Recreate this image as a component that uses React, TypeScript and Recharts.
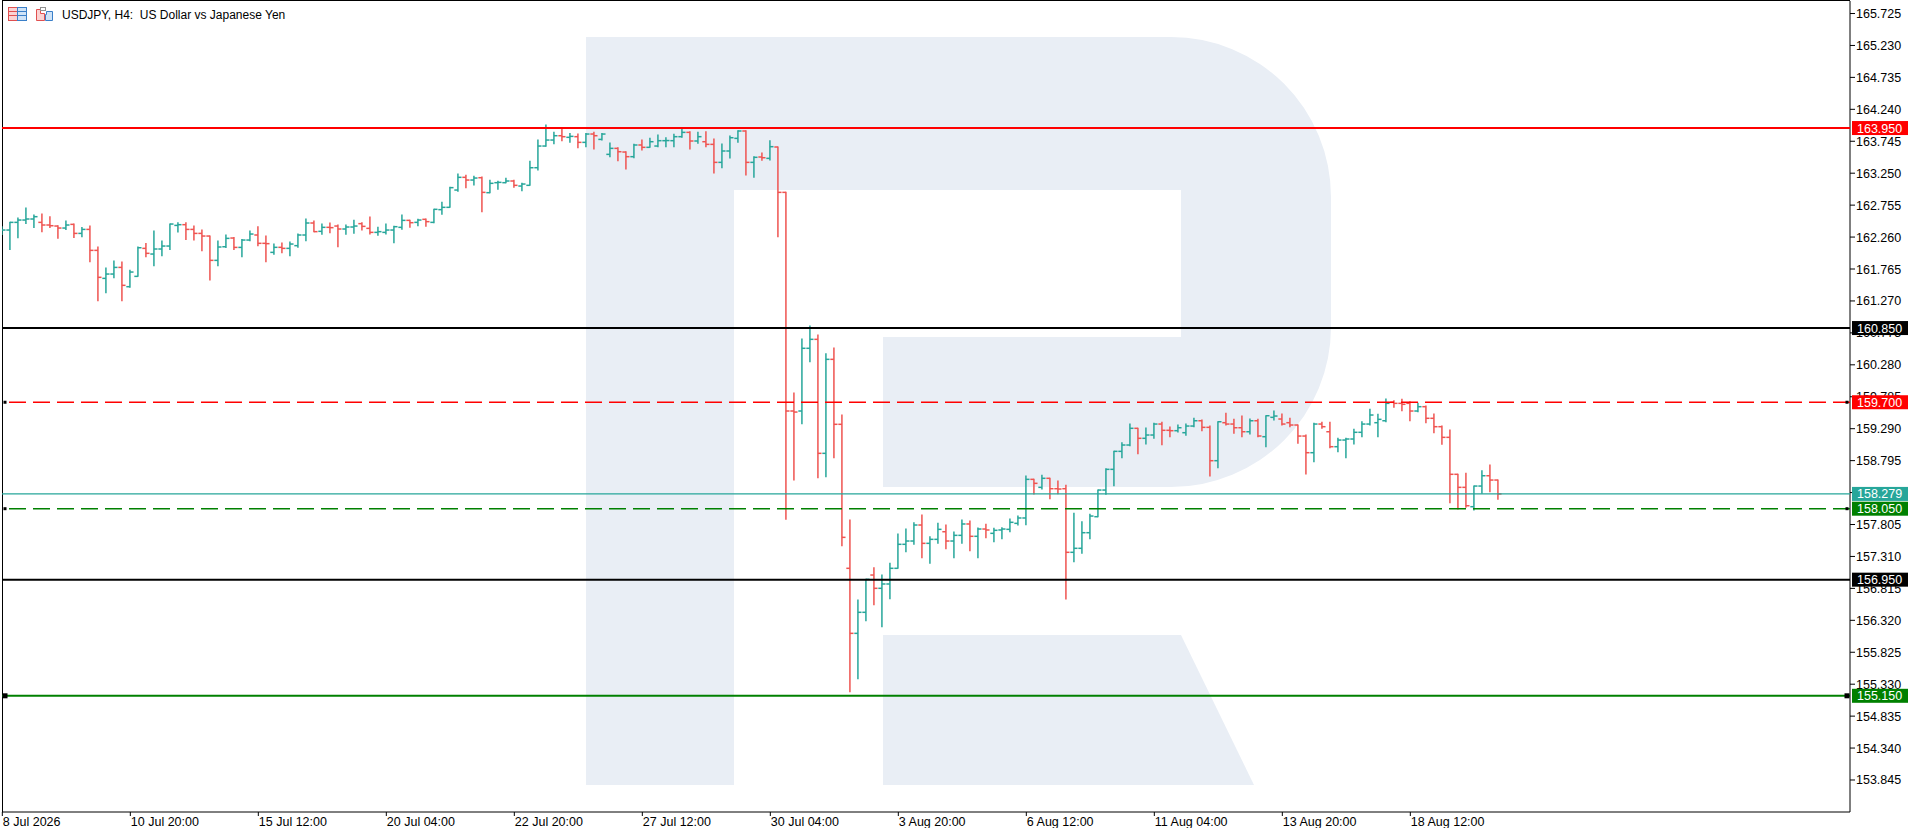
import React from 'react';
import { ComposedChart, Bar, XAxis, YAxis, ReferenceLine } from 'recharts';

const opens = [162.350,162.369,162.488,162.524,162.540,162.488,162.447,162.431,162.400,162.457,162.317,162.379,162.054,161.620,161.687,161.790,161.491,161.651,162.085,161.997,162.075,162.121,162.441,162.452,162.379,162.317,162.276,161.899,162.110,162.245,162.100,162.214,162.292,162.163,162.023,162.101,162.085,162.127,162.292,162.478,162.349,162.411,162.431,162.385,162.416,162.468,162.395,162.333,162.333,162.369,162.411,162.519,162.488,162.535,162.488,162.685,162.721,162.989,163.186,163.144,163.180,162.948,163.103,163.103,163.129,163.051,163.062,163.335,163.671,163.764,163.831,163.806,163.816,163.728,163.857,163.774,163.542,163.635,163.578,163.506,163.687,163.651,163.671,163.754,163.754,163.816,163.883,163.749,163.738,163.697,163.418,163.594,163.790,163.904,163.418,163.501,163.480,163.656,162.953,159.564,159.564,160.536,160.675,158.908,160.365,159.358,157.126,156.118,156.444,157.022,156.816,156.883,157.126,157.498,157.549,157.797,157.513,157.575,157.693,157.549,157.637,157.813,157.622,157.735,157.668,157.720,157.730,157.823,157.906,158.505,158.381,158.521,158.360,158.360,157.374,157.436,157.678,157.926,158.339,158.660,158.939,159.037,159.296,159.141,159.192,159.362,159.265,159.259,159.228,159.331,159.413,159.311,158.794,159.383,159.362,159.305,159.243,159.413,159.166,159.466,159.440,159.383,159.347,159.176,158.918,159.362,159.243,159.011,159.114,159.130,159.234,159.362,159.383,159.413,159.699,159.683,159.683,159.564,159.631,159.451,159.321,159.156,158.583,158.381,158.081,158.401,158.561,158.494];
const highs = [162.420,162.488,162.555,162.710,162.602,162.617,162.576,162.436,162.509,162.462,162.410,162.431,162.106,161.780,161.889,161.873,161.744,162.106,162.162,162.354,162.199,162.462,162.483,162.483,162.431,162.369,162.276,162.199,162.292,162.255,162.224,162.354,162.421,162.277,162.152,162.168,162.184,162.307,162.540,162.509,162.462,162.478,162.447,162.447,162.519,162.483,162.571,162.411,162.462,162.426,162.602,162.519,162.535,162.540,162.690,162.798,163.031,163.237,163.217,163.201,163.191,163.139,163.124,163.170,163.139,163.093,163.434,163.764,163.997,163.883,163.935,163.867,163.857,163.867,163.883,163.867,163.718,163.645,163.583,163.697,163.764,163.790,163.842,163.800,163.852,163.955,163.893,163.883,163.893,163.780,163.702,163.826,163.909,163.909,163.506,163.563,163.754,163.656,162.953,159.843,160.680,160.881,160.742,160.452,160.540,159.502,157.875,156.635,156.955,157.135,157.022,157.203,157.658,157.735,157.833,157.952,157.616,157.823,157.797,157.689,157.875,157.859,157.750,157.808,157.746,157.755,157.890,157.936,158.556,158.505,158.567,158.521,158.479,158.412,157.978,157.848,157.963,158.339,158.670,158.939,159.073,159.362,159.296,159.300,159.373,159.389,159.316,159.347,159.362,159.451,159.424,159.331,159.398,159.528,159.435,159.486,159.440,159.435,159.491,159.564,159.517,159.451,159.347,159.192,159.373,159.389,159.389,159.141,159.141,159.280,159.398,159.590,159.513,159.750,159.724,159.745,159.708,159.683,159.641,159.517,159.331,159.270,158.583,158.598,158.401,158.639,158.727,158.494];
const lows = [162.300,162.069,162.250,162.472,162.410,162.343,162.410,162.240,162.379,162.255,162.266,161.878,161.274,161.398,161.630,161.274,161.481,161.651,161.956,161.816,161.971,162.069,162.338,162.224,162.214,162.049,161.594,161.816,162.100,162.069,161.956,162.204,162.126,161.879,161.992,162.018,161.972,162.101,162.204,162.344,162.302,162.328,162.111,162.302,162.318,162.369,162.307,162.287,162.307,162.173,162.380,162.411,162.437,162.426,162.483,162.612,162.721,162.969,163.026,163.067,162.653,162.948,163.000,163.103,163.031,162.979,163.062,163.299,163.666,163.707,163.754,163.728,163.645,163.661,163.625,163.764,163.506,163.444,163.315,163.490,163.609,163.651,163.661,163.661,163.661,163.806,163.625,163.713,163.661,163.253,163.335,163.485,163.728,163.222,163.186,163.449,163.454,162.266,157.885,158.494,159.367,160.328,158.530,158.546,158.840,157.476,155.213,155.415,156.314,156.562,156.221,156.655,157.126,157.383,157.498,157.290,157.203,157.513,157.430,157.290,157.513,157.399,157.290,157.600,157.538,157.585,157.693,157.797,157.802,158.278,158.355,158.205,158.282,156.650,157.228,157.358,157.585,157.926,158.273,158.406,158.840,159.026,158.902,159.052,159.141,159.042,159.166,159.238,159.187,159.321,159.259,158.556,158.685,159.347,159.218,159.166,159.207,159.166,159.011,159.424,159.347,159.321,159.063,158.587,158.778,159.296,158.995,158.933,158.840,159.052,159.166,159.347,159.166,159.398,159.621,159.568,159.413,159.553,159.383,159.228,159.048,158.143,158.045,158.071,158.030,158.288,158.313,158.195];
const closes = [162.369,162.488,162.524,162.540,162.576,162.447,162.436,162.400,162.447,162.317,162.379,162.054,161.636,161.687,161.790,161.512,161.718,162.095,162.008,162.075,162.121,162.462,162.452,162.379,162.317,162.276,161.899,162.106,162.240,162.100,162.214,162.307,162.163,162.158,162.101,162.085,162.152,162.292,162.478,162.344,162.411,162.406,162.385,162.416,162.431,162.426,162.333,162.344,162.369,162.421,162.519,162.483,162.524,162.499,162.690,162.721,163.026,163.186,163.144,163.175,162.953,163.093,163.108,163.129,163.062,163.082,163.335,163.671,163.764,163.831,163.816,163.821,163.728,163.857,163.831,163.857,163.635,163.583,163.506,163.687,163.651,163.738,163.754,163.756,163.816,163.883,163.749,163.816,163.697,163.418,163.594,163.800,163.904,163.418,163.496,163.490,163.661,162.953,159.564,159.548,160.536,160.675,158.908,160.365,159.358,157.606,156.118,156.444,156.955,156.816,156.883,157.126,157.498,157.549,157.797,157.513,157.575,157.730,157.549,157.637,157.813,157.622,157.735,157.720,157.715,157.735,157.839,157.906,158.505,158.443,158.521,158.360,158.355,157.374,157.436,157.678,157.936,158.339,158.660,158.939,159.037,159.296,159.141,159.192,159.362,159.265,159.259,159.305,159.331,159.413,159.311,158.794,159.398,159.362,159.305,159.243,159.413,159.177,159.491,159.486,159.362,159.347,159.176,158.918,159.362,159.321,159.011,159.114,159.130,159.234,159.362,159.502,159.435,159.683,159.683,159.668,159.564,159.631,159.451,159.321,159.156,158.583,158.381,158.096,158.401,158.561,158.494,158.279];

const xTickIndex = [0, 16, 32, 48, 64, 80, 96, 112, 128, 144, 160, 176];
const xTickLabels = ['8 Jul 2026', '10 Jul 20:00', '15 Jul 12:00', '20 Jul 04:00', '22 Jul 20:00', '27 Jul 12:00', '30 Jul 04:00', '3 Aug 20:00', '6 Aug 12:00', '11 Aug 04:00', '13 Aug 20:00', '18 Aug 12:00'];
const yTicks = [165.725, 165.23, 164.735, 164.24, 163.745, 163.25, 162.755, 162.26, 161.765, 161.27, 160.775, 160.28, 159.785, 159.29, 158.795, 158.3, 157.805, 157.31, 156.815, 156.32, 155.825, 155.33, 154.835, 154.34, 153.845];
const levelValues = [163.95, 160.85, 159.7, 158.279, 158.05, 156.95, 155.15];

const GREEN = '#26a69a';
const RED = '#ef5350';
const FONT = '"Liberation Sans", Arial, sans-serif';
const X_DOMAIN: [number, number] = [-0.04, 230.96];
const Y_DOMAIN: [number, number] = [153.349, 165.919];
const MARGIN = { top: 1, right: 0, bottom: 0, left: 2 };

const levelStyles = [
  { color: '#ff0000', width: 2, dash: undefined, marker: 0 },
  { color: '#000000', width: 2, dash: undefined, marker: 0 },
  { color: '#ff0000', width: 1.4, dash: '17 7', marker: 3 },
  { color: '#26a69a', width: 1.2, dash: undefined, marker: 0 },
  { color: '#008000', width: 1.4, dash: '17 7', marker: 3 },
  { color: '#000000', width: 2, dash: undefined, marker: 0 },
  { color: '#008000', width: 2, dash: undefined, marker: 5 },
];

const data = opens.map((o, i) => ({ i, o, h: highs[i], l: lows[i], c: closes[i], range: [lows[i], highs[i]] }));

const OhlcShape = (props: any) => {
  const { x, y, width, height, payload } = props;
  if (x == null || y == null || !payload) return null;
  const top = Math.min(y, y + height);
  const bot = Math.max(y, y + height);
  const { h, l, o, c } = payload;
  const k = h > l ? (bot - top) / (h - l) : 0;
  const yo = top + (h - o) * k;
  const yc = top + (h - c) * k;
  const cx = x + width / 2;
  const color = c >= o ? GREEN : RED;
  return (
    <g stroke={color} strokeWidth={1.5}>
      <line x1={cx} x2={cx} y1={top - 0.5} y2={bot + 0.5} />
      <line x1={cx - 3.6} x2={cx} y1={yo} y2={yo} />
      <line x1={cx} x2={cx + 3.6} y1={yc} y2={yc} />
    </g>
  );
};

const XTick = (props: any) => {
  const { x, payload } = props;
  const idx = xTickIndex.indexOf(payload.value);
  return (
    <text x={x + 0.5} y={826} fontSize={12.5} fontFamily={FONT} fill="#000" textAnchor="start">
      {idx >= 0 ? xTickLabels[idx] : ''}
    </text>
  );
};

const YTick = (props: any) => {
  const { x, y, payload } = props;
  return (
    <text x={x} y={y} dy="0.36em" fontSize={12.5} fontFamily={FONT} fill="#000" textAnchor="start">
      {Number(payload.value).toFixed(3)}
    </text>
  );
};

const LevelLabel = (props: any) => {
  const { viewBox, value, color, marker } = props;
  if (!viewBox) return null;
  const { x, y, width } = viewBox;
  const right = x + width;
  return (
    <g>
      {marker > 0 && (
        <>
          <rect x={x + 3 - marker / 2} y={y - marker / 2} width={marker} height={marker} fill="#000" />
          <rect x={right - 3 - marker / 2} y={y - marker / 2} width={marker} height={marker} fill="#000" />
        </>
      )}
      <rect x={right + 2} y={y - 7} width={56} height={14} fill={color} />
      <text x={right + 7} y={y} dy="0.36em" fontSize={12.5} fontFamily={FONT} fill="#fff" textAnchor="start">
        {value.toFixed(3)}
      </text>
    </g>
  );
};

const Background = () => (
  <svg width={1915} height={828} style={{ position: 'absolute', left: 0, top: 0 }}>
    <rect x={0} y={0} width={1915} height={828} fill="#ffffff" />
    <path d="M586,37 H1171 A160,160 0 0 1 1331,197 V327 A160,160 0 0 1 1171,487 H883 V337 H1181 V190 H734 V785 H586 Z" fill="#e9eef5" />
    <path d="M883,635 H1181 L1254,785 H883 Z" fill="#e9eef5" />
    <line x1={2.5} x2={2.5} y1={0} y2={812} stroke="#000" strokeWidth={1} />
    <line x1={2} x2={1850} y1={0.5} y2={0.5} stroke="#000" strokeWidth={1} />
    <g>
      <rect x={8.5} y={7.5} width={9} height={13} fill="#fbd3d3" stroke="#e05050" strokeWidth={1} />
      <rect x={17.5} y={7.5} width={9} height={13} fill="#cfe3f7" stroke="#3a7fc8" strokeWidth={1} />
      <line x1={9} x2={17} y1={11.5} y2={11.5} stroke="#e05050" />
      <line x1={9} x2={17} y1={15.5} y2={15.5} stroke="#e05050" />
      <line x1={18} x2={26} y1={11.5} y2={11.5} stroke="#3a7fc8" />
      <line x1={18} x2={26} y1={15.5} y2={15.5} stroke="#3a7fc8" />
      <path d="M36.5,9.5 H40.5 V13.5 H44.5 V20.5 H36.5 Z" fill="#fbd3d3" stroke="#e05050" />
      <rect x={40.5} y={7.5} width={5} height={3} fill="#ffffff" stroke="#909090" />
      <path d="M46.5,11.5 H52.5 V20.5 H45.5 V14.5 H46.5 Z" fill="#cfe3f7" stroke="#3a7fc8" />
    </g>
    <text x={62} y={19} fontSize={12} fontFamily={FONT} fill="#000" style={{ whiteSpace: 'pre' }}>
      USDJPY, H4:  US Dollar vs Japanese Yen
    </text>
  </svg>
);

export default function App() {
  return (
    <div style={{ position: 'absolute', left: 0, top: 0, width: 1915, height: 828, overflow: 'hidden' }}>
      <Background />
      {/* axes layer (below) */}
      <div style={{ position: 'absolute', left: 0, top: 0 }}>
        <ComposedChart width={1915} height={828} data={data} margin={MARGIN}>
          <XAxis
            dataKey="i"
            type="number"
            domain={X_DOMAIN}
            allowDataOverflow
            ticks={xTickIndex}
            interval={0}
            height={16}
            tickSize={4}
            tickLine={{ stroke: '#000' }}
            axisLine={{ stroke: '#000' }}
            tick={<XTick />}
          />
          <YAxis
            orientation="right"
            type="number"
            domain={Y_DOMAIN}
            allowDataOverflow
            ticks={yTicks}
            interval={0}
            width={65}
            tickSize={5}
            tickMargin={1}
            tickLine={{ stroke: '#000' }}
            axisLine={{ stroke: '#000' }}
            tick={<YTick />}
          />
        </ComposedChart>
      </div>
      {/* series and level layer (above) */}
      <div style={{ position: 'absolute', left: 0, top: 0 }}>
        <ComposedChart width={1915} height={828} data={data} margin={MARGIN}>
          <XAxis
            dataKey="i"
            type="number"
            domain={X_DOMAIN}
            allowDataOverflow
            ticks={xTickIndex}
            height={16}
            tick={false}
            tickLine={false}
            axisLine={false}
          />
          <YAxis
            orientation="right"
            type="number"
            domain={Y_DOMAIN}
            allowDataOverflow
            ticks={yTicks}
            width={65}
            tick={false}
            tickLine={false}
            axisLine={false}
          />
          <Bar dataKey="range" barSize={8} isAnimationActive={false} shape={<OhlcShape />} />
          {levelValues.map((v, k) => (
            <ReferenceLine
              key={k}
              y={v}
              stroke={levelStyles[k].color}
              strokeWidth={levelStyles[k].width}
              strokeDasharray={levelStyles[k].dash}
              label={<LevelLabel value={v} color={levelStyles[k].color} marker={levelStyles[k].marker} />}
            />
          ))}
        </ComposedChart>
      </div>
    </div>
  );
}
